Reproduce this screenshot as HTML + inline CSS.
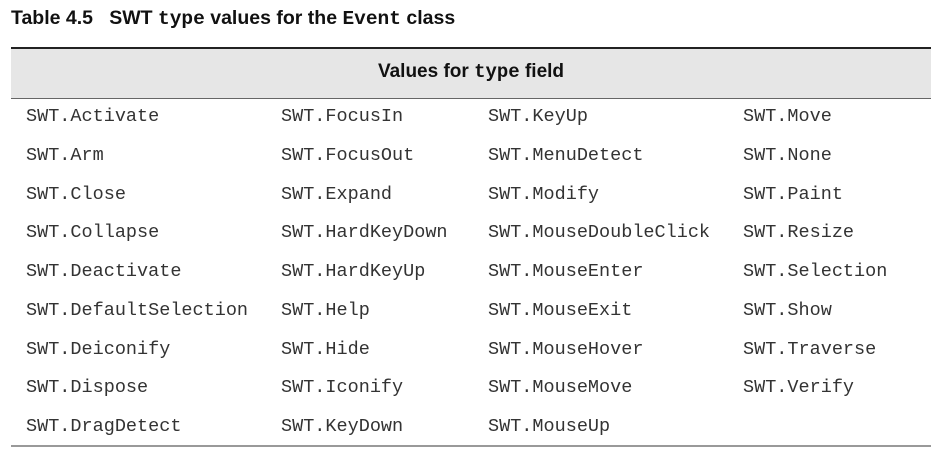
<!DOCTYPE html>
<html><head><style>
body{margin:0;width:948px;height:457px;background:#fff;position:relative;font-family:"Liberation Sans",sans-serif;overflow:hidden}
.t{position:absolute;left:11px;top:7px;font-weight:bold;font-size:19.5px;color:#111;white-space:pre}
.mb{font-family:"Liberation Mono",monospace;font-weight:bold}
.hd{position:absolute;left:11px;width:920px;top:47px;height:49px;background:#e6e6e6;border-top:2px solid #222;border-bottom:1px solid #666}
.hd div{text-align:center;font-weight:bold;font-size:19px;line-height:45px;color:#111}
.c{position:absolute;font-family:"Liberation Mono",monospace;font-size:18.5px;color:#333;white-space:pre;line-height:20px}
.bl{position:absolute;left:11px;width:920px;top:445px;height:2px;background:#999}
</style></head><body>
<div class="t">Table 4.5   SWT <span class="mb">type</span> values for the <span class="mb">Event</span> class</div>
<div class="hd"><div>Values for <span class="mb">type</span> field</div></div>
<div class="bl"></div>
<div id="g"></div>
<script>
var cols=[[26,["Activate","Arm","Close","Collapse","Deactivate","DefaultSelection","Deiconify","Dispose","DragDetect"]],
[281,["FocusIn","FocusOut","Expand","HardKeyDown","HardKeyUp","Help","Hide","Iconify","KeyDown"]],
[488,["KeyUp","MenuDetect","Modify","MouseDoubleClick","MouseEnter","MouseExit","MouseHover","MouseMove","MouseUp"]],
[743,["Move","None","Paint","Resize","Selection","Show","Traverse","Verify"]]];
var h="";cols.forEach(function(c){c[1].forEach(function(n,i){h+='<div class="c" style="left:'+c[0]+'px;top:'+(107+i*38.75)+'px">SWT.'+n+'</div>';});});
document.getElementById("g").innerHTML=h;
</script>
</body></html>
